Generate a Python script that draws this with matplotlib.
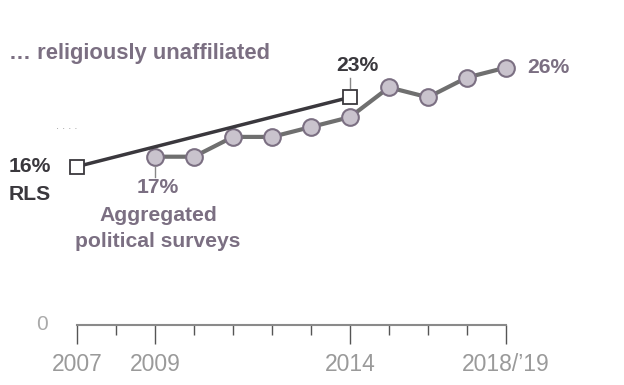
import matplotlib
matplotlib.use("Agg")
import matplotlib.pyplot as plt
from matplotlib.ticker import FixedLocator

# Data
agg_years = [2009, 2010, 2011, 2012, 2013, 2014, 2015, 2016, 2017, 2018]
agg_values = [17, 17, 19, 19, 20, 21, 24, 23, 25, 26]
rls_years = [2007, 2014]
rls_values = [16, 23]
major_ticks = [2007, 2009, 2014, 2018]
major_labels = ["2007", "2009", "2014", "2018/\u201919"]
minor_ticks = [2008, 2010, 2011, 2012, 2013, 2015, 2016, 2017]

W, H = 624, 385
fig = plt.figure(figsize=(W / 100, H / 100), dpi=100)
ax = fig.add_axes([0, 0, 1, 1])
px_per_year = 39
px_per_pct = 9.9
x0px, y0px = 77, 325
ax.set_xlim(2007 - x0px / px_per_year, 2007 + (W - x0px) / px_per_year)
ax.set_ylim(-(H - y0px) / px_per_pct, y0px / px_per_pct)
xmin = ax.get_xlim()[0]

FONT = "Liberation Sans"
purple = "#7b6f82"
dark = "#3a383d"
grey_line = "#6f6f6f"
tick_grey = "#9a9a9a"
LBL = 15.2

for s in ["top", "right", "left"]:
    ax.spines[s].set_visible(False)
ax.spines["bottom"].set_position(("data", 0))
ax.spines["bottom"].set_bounds(2007, 2018)
ax.spines["bottom"].set_color("#8a8a8a")
ax.spines["bottom"].set_linewidth(1.5)
ax.set_yticks([])
ax.xaxis.set_major_locator(FixedLocator(major_ticks))
ax.xaxis.set_minor_locator(FixedLocator(minor_ticks))
ax.set_xticklabels(major_labels)
ax.tick_params(axis="x", which="major", direction="out", length=14, width=1,
               color="#555555", labelsize=16.5, labelcolor=tick_grey, pad=6)
ax.tick_params(axis="x", which="minor", direction="out", length=7.5, width=1,
               color="#555555")
for lbl in ax.get_xticklabels():
    lbl.set_fontfamily(FONT)

# Lines
ax.plot(agg_years, agg_values, color=grey_line, lw=3, zorder=2,
        marker="o", markersize=12, markerfacecolor="#c9c3cd",
        markeredgecolor="#7b6f82", markeredgewidth=1.5)
ax.plot(rls_years, rls_values, color=dark, lw=2.5, zorder=3,
        marker="s", markersize=10, markerfacecolor="white",
        markeredgecolor=dark, markeredgewidth=1.3)

# Annotations
ax.text(xmin + 9 / px_per_year, (y0px - 53) / px_per_pct,
        "\u2026 religiously unaffiliated", color=purple, fontsize=15.8,
        fontweight="bold", family=FONT, ha="left", va="center")
ax.text(xmin + 56 / px_per_year, (y0px - 126) / px_per_pct, ". . . .",
        color="#999999", fontsize=8, family=FONT, ha="left", va="center")
ax.text(xmin + 9 / px_per_year, rls_values[0], "16%",
        color=dark, fontsize=LBL, fontweight="bold", family=FONT,
        ha="left", va="center")
ax.text(xmin + 9 / px_per_year, rls_values[0] - 2.8, "RLS",
        color=dark, fontsize=LBL, fontweight="bold", family=FONT,
        ha="left", va="center")
ax.text(rls_years[1] + 0.18, rls_values[1] + 3.2, "23%", color=dark,
        fontsize=LBL, fontweight="bold", family=FONT, ha="center", va="center")
ax.plot([rls_years[1], rls_years[1]], [rls_values[1] + 0.9, rls_values[1] + 2.0],
        color="#888888", lw=1)
ax.text(agg_years[-1] + 0.55, agg_values[-1], "26%", color=purple,
        fontsize=LBL, fontweight="bold", family=FONT, ha="left", va="center")
ax.plot([agg_years[0], agg_years[0]], [agg_values[0] - 0.9, agg_values[0] - 2.1],
        color="#888888", lw=1)
ax.text(agg_years[0] + 0.08, agg_values[0] - 3.1, "17%", color=purple,
        fontsize=LBL, fontweight="bold", family=FONT, ha="center", va="center")
ax.text(agg_years[0] + 0.08, agg_values[0] - 5.9, "Aggregated", color=purple,
        fontsize=LBL, fontweight="bold", family=FONT, ha="center", va="center")
ax.text(agg_years[0] + 0.08, agg_values[0] - 8.6, "political surveys", color=purple,
        fontsize=LBL, fontweight="bold", family=FONT, ha="center", va="center")
ax.text(xmin + 42 / px_per_year, 0.1, "0", color="#aaaaaa",
        fontsize=15, family=FONT, ha="center", va="center")

fig.savefig("out.png", dpi=100)
